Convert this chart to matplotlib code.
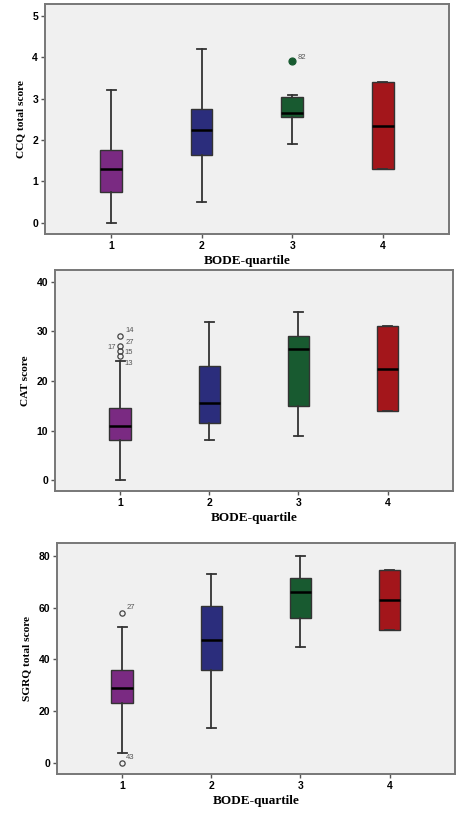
import matplotlib
matplotlib.use("Agg")
import matplotlib.pyplot as plt

categories = ["1", "2", "3", "4"]
colors = ["#7A2A82", "#2B2D7C", "#185A30", "#A3161B"]

# CCQ total score: whisker low, Q1, median, Q3, whisker high
ccq_lo = [0.0, 0.5, 1.9, 1.3]
ccq_q1 = [0.75, 1.65, 2.55, 1.3]
ccq_med = [1.3, 2.25, 2.65, 2.35]
ccq_q3 = [1.75, 2.75, 3.05, 3.4]
ccq_hi = [3.2, 4.2, 3.1, 3.4]
ccq_fliers = [[], [], [3.9], []]
ccq_flier_labels = [[], [], ["82"], []]

# CAT score
cat_lo = [0, 8, 9, 14]
cat_q1 = [8, 11.5, 15, 14]
cat_med = [11, 15.5, 26.5, 22.5]
cat_q3 = [14.5, 23, 29, 31]
cat_hi = [24, 32, 34, 31]
cat_fliers = [[29, 27, 26, 25], [], [], []]

# SGRQ total score
sgrq_lo = [4, 13.5, 45, 51.5]
sgrq_q1 = [23, 36, 56, 51.5]
sgrq_med = [29, 47.5, 66, 63]
sgrq_q3 = [36, 60.5, 71.5, 74.5]
sgrq_hi = [52.5, 73, 80, 74.5]
sgrq_fliers = [[58, 0], [], [], []]
sgrq_flier_labels = [["27", "43"], [], [], []]

fig = plt.figure(figsize=(4.62, 8.14), dpi=100)
fig.patch.set_facecolor("white")

serif = ["Liberation Serif", "DejaVu Serif"]
sans = ["Liberation Sans", "DejaVu Sans"]


def panel(rect, lo, q1, med, q3, hi, fliers, ylim, yticks, ylabel, filled_flier=False):
    ax = fig.add_axes(rect)
    ax.set_facecolor("#F0F0F0")
    stats = []
    for i in range(len(categories)):
        stats.append(dict(whislo=lo[i], q1=q1[i], med=med[i], q3=q3[i],
                          whishi=hi[i], fliers=fliers[i], label=categories[i]))
    bp = ax.bxp(stats, positions=range(1, 5), widths=0.24, patch_artist=True,
                showfliers=True,
                boxprops=dict(edgecolor="#333333", linewidth=1.0),
                medianprops=dict(color="black", linewidth=1.8),
                whiskerprops=dict(color="#333333", linewidth=1.3),
                capprops=dict(color="#333333", linewidth=1.3),
                capwidths=0.1,
                flierprops=dict(marker="o", markersize=3.8, markerfacecolor="none",
                                markeredgecolor="#444444", markeredgewidth=0.9))
    for patch, c in zip(bp["boxes"], colors):
        patch.set_facecolor(c)
    if filled_flier:
        for fl, c in zip(bp["fliers"], colors):
            fl.set_markerfacecolor(c)
            fl.set_markeredgecolor(c)
            fl.set_markersize(5)
    ax.set_xlim(0.27, 4.73)
    ax.set_ylim(*ylim)
    ax.set_yticks(yticks)
    ax.set_xticks(range(1, 5))
    ax.set_xticklabels(categories)
    for lab in ax.get_xticklabels() + ax.get_yticklabels():
        lab.set_fontfamily(sans)
        lab.set_fontweight("bold")
        lab.set_fontsize(7.5)
    ax.tick_params(length=3, width=1, color="#555555", pad=2)
    for s in ax.spines.values():
        s.set_color("#777777")
        s.set_linewidth(1.4)
    ax.set_xlabel("BODE-quartile", fontfamily=serif, fontweight="bold", fontsize=9.5, labelpad=3)
    ax.set_ylabel(ylabel, fontfamily=serif, fontweight="bold", fontsize=8.2, labelpad=5)
    return ax


ax1 = panel([0.0974, 0.7125, 0.874, 0.2826], ccq_lo, ccq_q1, ccq_med, ccq_q3, ccq_hi,
            ccq_fliers, (-0.27, 5.29), [0, 1, 2, 3, 4, 5], "CCQ total score", filled_flier=True)
for i, (vals, labs) in enumerate(zip(ccq_fliers, ccq_flier_labels)):
    for v, t in zip(vals, labs):
        ax1.annotate(t, (i + 1, v), xytext=(4, 2), textcoords="offset points",
                     fontsize=5.5, color="#555555", fontfamily=sans)

ax2 = panel([0.119, 0.3968, 0.861, 0.2715], cat_lo, cat_q1, cat_med, cat_q3, cat_hi,
            cat_fliers, (-2.2, 42.4), [0, 10, 20, 30, 40], "CAT score")
cat_labels = [("14", 29, 4, 3), ("27", 27, 4, 2), ("17", 27, -9, -2), ("15", 26, 3, -2),
              ("13", 24, 3, -3)]
for t, v, dx, dy in cat_labels:
    ax2.annotate(t, (1, v), xytext=(dx, dy), textcoords="offset points",
                 fontsize=5.5, color="#555555", fontfamily=sans)

ax3 = panel([0.1234, 0.0491, 0.861, 0.2838], sgrq_lo, sgrq_q1, sgrq_med, sgrq_q3, sgrq_hi,
            sgrq_fliers, (-4.25, 85), [0, 20, 40, 60, 80], "SGRQ total score")
for i, (vals, labs) in enumerate(zip(sgrq_fliers, sgrq_flier_labels)):
    for v, t in zip(vals, labs):
        ax3.annotate(t, (i + 1, v), xytext=(3, 3), textcoords="offset points",
                     fontsize=5.5, color="#555555", fontfamily=sans)

fig.savefig("out.png", dpi=100)
